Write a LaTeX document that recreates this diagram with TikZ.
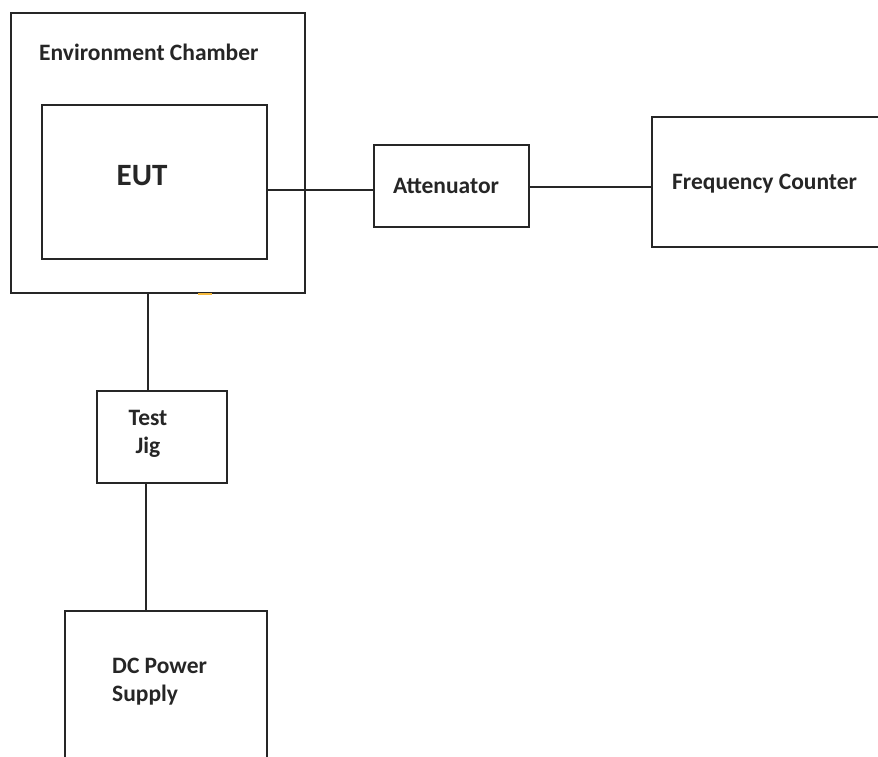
\documentclass[tikz,border=0pt]{standalone}
\usepackage{fontspec}
\setmainfont{Carlito}
\usetikzlibrary{calc}
\tikzset{
  box/.style={draw=black!85, line width=1.6pt, rectangle, anchor=north west, inner sep=0pt},
  lbl/.style={font=\fontsize{23.5}{28}\selectfont\bfseries, text=black!85, inner sep=0pt},
  wire/.style={draw=black!85, line width=1.6pt}
}
\begin{document}
\begin{tikzpicture}[x=1pt,y=-1pt]
\useasboundingbox (0,0) rectangle (878,756);
\clip (0,0) rectangle (878,756);
\fill[white] (0,0) rectangle (878,756);
% boxes
\node[box, minimum width=294pt, minimum height=280pt] (chamber) at (10,12) {};
\node[box, minimum width=225pt, minimum height=154pt] (eut) at (41,104) {};
\node[box, minimum width=155pt, minimum height=82pt] (att) at (373,144) {};
\node[box, minimum width=260pt, minimum height=130pt] (fc) at (651,116) {};
\node[box, minimum width=130pt, minimum height=92pt] (jig) at (96,390) {};
\node[box, minimum width=202pt, minimum height=180pt] (dc) at (64,610) {};
% labels
\node[lbl, anchor=west] (chamberlbl) at (39,52) {Environment Chamber};
\node[lbl, font=\fontsize{31}{36}\selectfont\bfseries] (eutlbl) at (142,176) {EUT};
\node[lbl] (attlbl) at (446,186) {Attenuator};
\node[lbl, anchor=west] (fclbl) at (672,184) {Frequency Counter};
\node[lbl, align=center] (jiglbl) at (148,434) {Test\\Jig};
\node[lbl, align=left, anchor=west] (dclbl) at (112,682) {DC Power\\Supply};
% connectors
\coordinate (a1) at (266,190);
\draw[wire] (a1) -- (a1 -| att.west);
\coordinate (a2) at (528,187);
\draw[wire] (a2) -- (a2 -| fc.west);
\coordinate (j1) at (148,390);
\draw[wire] (j1) -- (j1 |- chamber.south);
\coordinate (j2) at (146,482);
\draw[wire] (j2) -- (j2 |- dc.north);
% small orange mark
\draw[color={rgb,255:red,245;green,185;blue,60}, line width=1.8pt] (198,294) -- (212,294);
\end{tikzpicture}
\end{document}
